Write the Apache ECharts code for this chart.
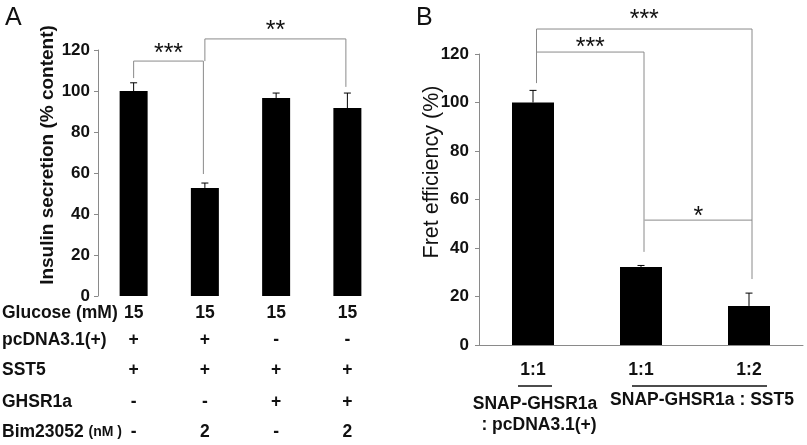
<!DOCTYPE html>
<html>
<head>
<meta charset="utf-8">
<script src="https://cdn.jsdelivr.net/npm/echarts@6/dist/echarts.min.js"></script>
<style>html,body{margin:0;padding:0;background:#fff}#c{width:807px;height:445px}</style>
</head>
<body>
<div id="c"></div>
<script>
// ---------- Panel A data ----------
const catsA = ['g1', 'g2', 'g3', 'g4'];
const insulin = [100, 52.7, 96.6, 91.7];
const insulinErr = [4, 2.4, 2.4, 7.3];
const rowGlucose = ['15', '15', '15', '15'];
const rowPcDNA = ['+', '+', '-', '-'];
const rowSST5 = ['+', '+', '+', '+'];
const rowGHSR = ['-', '-', '+', '+'];
const rowBim = ['-', '2', '-', '2'];
const yTicksA = [0, 20, 40, 60, 80, 100, 120];
// brackets: [fromIdx, toIdx, topY, leftBottomY, rightBottomY]
const bracketsA = [[0, 1, 114.6, 106.3, 59.5], [1, 3, 125.4, 114.6, 102]];
const bracketLabelsA = ['***', '**'];
const bracketLabelYA = [120.5, 131.7];

// ---------- Panel B data ----------
const catsB = ['1:1', '1:1', '1:2'];
const fret = [100, 32.2, 16.1];
const fretErr = [5, 0.6, 5.3];
const yTicksB = [0, 20, 40, 60, 80, 100, 120];
const bracketsB = [[0, 2, 130.3, 108, 27.2], [0, 1, 120.8, 120.8, 38.4], [1, 2, 51.5, 51.5, 51.5]];
const bracketLabelsB = ['***', '***', '*'];
const bracketLabelYB = [136, 124.5, 54.8];

const FONT = "'Liberation Sans', Arial, Helvetica, sans-serif";
const chart = echarts.init(document.getElementById('c'));

function errRender(params, api) {
  const x = api.value(0), v = api.value(1), e = api.value(2);
  const p0 = api.coord([x, v]);
  const p1 = api.coord([x, v + e]);
  return {
    type: 'group',
    children: [
      { type: 'line', shape: { x1: p0[0], y1: p0[1], x2: p1[0], y2: p1[1] }, style: { stroke: '#000', lineWidth: 1 } },
      { type: 'line', shape: { x1: p1[0] - 3.5, y1: p1[1], x2: p1[0] + 3.5, y2: p1[1] }, style: { stroke: '#000', lineWidth: 1 } }
    ]
  };
}

function bracketRender(labels, labelYs, dxL, dxR) {
  return function (params, api) {
    const i = params.dataIndex;
    const a = api.value(0), b = api.value(1), top = api.value(2), lb = api.value(3), rb = api.value(4);
    const pTL = api.coord([a, top]), pTR = api.coord([b, top]);
    const pLB = api.coord([a, lb]), pRB = api.coord([b, rb]);
    const lx = pTL[0] + dxL, rx = pTR[0] + dxR;
    const pl = api.coord([(a + b) / 2, labelYs[i]]);
    return {
      type: 'group',
      children: [
        { type: 'polyline', shape: { points: [[lx, pLB[1]], [lx, pTL[1]], [rx, pTR[1]], [rx, pRB[1]]] },
          style: { stroke: '#8a8a8a', lineWidth: 1, fill: null } },
        { type: 'text', style: { text: labels[i], x: (lx + rx) / 2, y: pl[1] + 5, align: 'center', verticalAlign: 'middle',
          font: "normal 25px " + FONT, fill: '#111' } }
      ]
    };
  };
}

const rich = {
  r1: { lineHeight: 26, fontSize: 17.5, fontWeight: 'bold', fontFamily: FONT, color: '#111' },
  r2: { lineHeight: 28, fontSize: 17.5, fontWeight: 'bold', fontFamily: FONT, color: '#111' },
  r3: { lineHeight: 32, fontSize: 17.5, fontWeight: 'bold', fontFamily: FONT, color: '#111' },
  r4: { lineHeight: 32, fontSize: 17.5, fontWeight: 'bold', fontFamily: FONT, color: '#111' },
  r5: { lineHeight: 28, fontSize: 17.5, fontWeight: 'bold', fontFamily: FONT, color: '#111' }
};

const rowLabelY = [313, 340, 370, 402, 432];
const rowLabels = ['Glucose (mM)', 'pcDNA3.1(+)', 'SST5', 'GHSR1a'];

const graphics = [
  { type: 'text', left: 5, top: 6, style: { text: 'A', font: 'normal 25px ' + FONT, fill: '#111' } },
  { type: 'text', left: 416, top: 6, style: { text: 'B', font: 'normal 25px ' + FONT, fill: '#111' } },
  { type: 'text', x: 48, y: 155, rotation: Math.PI / 2, style: { text: 'Insulin secretion (% content)', align: 'center', verticalAlign: 'middle', font: 'bold 19px ' + FONT, fill: '#111' } },
  { type: 'text', x: 432, y: 172, rotation: Math.PI / 2, style: { text: 'Fret efficiency (%)', align: 'center', verticalAlign: 'middle', font: 'normal 21.5px ' + FONT, fill: '#111' } }
];
rowLabels.forEach((t, k) => {
  graphics.push({ type: 'text', x: 2, y: rowLabelY[k], style: { text: t, align: 'left', verticalAlign: 'middle', font: 'bold 17.5px ' + FONT, fill: '#111' } });
});
graphics.push({ type: 'text', x: 2, y: rowLabelY[4], style: {
  text: '{a|Bim23052 }{b|(nM )}', align: 'left', verticalAlign: 'middle',
  rich: { a: { font: 'bold 17.5px ' + FONT, fill: '#111' }, b: { font: 'bold 14px ' + FONT, fill: '#111' } } } });
// panel B group labels
graphics.push({ type: 'line', shape: { x1: 518, y1: 386, x2: 552, y2: 386 }, style: { stroke: '#111', lineWidth: 1.5 } });
graphics.push({ type: 'line', shape: { x1: 632, y1: 386, x2: 767, y2: 386 }, style: { stroke: '#111', lineWidth: 1.5 } });
graphics.push({ type: 'text', x: 535, y: 404, style: { text: 'SNAP-GHSR1a', align: 'center', verticalAlign: 'middle', font: 'bold 17.5px ' + FONT, fill: '#111' } });
graphics.push({ type: 'text', x: 539, y: 425, style: { text: ': pcDNA3.1(+)', align: 'center', verticalAlign: 'middle', font: 'bold 17.5px ' + FONT, fill: '#111' } });
graphics.push({ type: 'text', x: 702, y: 400, style: { text: 'SNAP-GHSR1a : SST5', align: 'center', verticalAlign: 'middle', font: 'bold 17.5px ' + FONT, fill: '#111' } });

const axisLabelY = { fontSize: 17, fontWeight: 'bold', fontFamily: FONT, color: '#111' };

chart.setOption({
  animation: false,
  backgroundColor: '#fff',
  grid: [
    { left: 98, top: 50, width: 285, height: 246 },
    { left: 479, top: 54, width: 324, height: 291 }
  ],
  xAxis: [
    { type: 'category', gridIndex: 0, data: catsA, axisLine: { show: false }, axisTick: { show: false },
      axisLabel: { margin: 4, interval: 0, rich: rich,
        formatter: (v, i) => `{r1|${rowGlucose[i]}}\n{r2|${rowPcDNA[i]}}\n{r3|${rowSST5[i]}}\n{r4|${rowGHSR[i]}}\n{r5|${rowBim[i]}}` } },
    { type: 'category', gridIndex: 1, data: catsB, axisLine: { show: true, lineStyle: { color: '#8a8a8a', width: 1 } },
      axisTick: { show: false }, axisLabel: { margin: 16, interval: 0, fontSize: 17.5, fontWeight: 'bold', fontFamily: FONT, color: '#111' } }
  ],
  yAxis: [
    { type: 'value', gridIndex: 0, min: yTicksA[0], max: yTicksA[yTicksA.length - 1], interval: 20,
      axisLine: { show: true, lineStyle: { color: '#8a8a8a' } }, axisTick: { show: true, length: 4, lineStyle: { color: '#8a8a8a' } },
      splitLine: { show: false }, axisLabel: Object.assign({ margin: 8 }, axisLabelY) },
    { type: 'value', gridIndex: 1, min: yTicksB[0], max: yTicksB[yTicksB.length - 1], interval: 20,
      axisLine: { show: true, lineStyle: { color: '#8a8a8a' } }, axisTick: { show: true, length: 4, lineStyle: { color: '#8a8a8a' } },
      splitLine: { show: false }, axisLabel: Object.assign({ margin: 10 }, axisLabelY) }
  ],
  series: [
    { type: 'bar', xAxisIndex: 0, yAxisIndex: 0, data: insulin, barWidth: 28, itemStyle: { color: '#000' } },
    { type: 'custom', xAxisIndex: 0, yAxisIndex: 0, renderItem: errRender, clip: false,
      data: insulin.map((v, i) => [i, v, insulinErr[i]]) },
    { type: 'custom', xAxisIndex: 0, yAxisIndex: 0, clip: false,
      renderItem: bracketRender(bracketLabelsA, bracketLabelYA, 0, -1.5), data: bracketsA },
    { type: 'bar', xAxisIndex: 1, yAxisIndex: 1, data: fret, barWidth: 42, itemStyle: { color: '#000' } },
    { type: 'custom', xAxisIndex: 1, yAxisIndex: 1, renderItem: errRender, clip: false,
      data: fret.map((v, i) => [i, v, fretErr[i]]) },
    { type: 'custom', xAxisIndex: 1, yAxisIndex: 1, clip: false,
      renderItem: bracketRender(bracketLabelsB, bracketLabelYB, 3.5, 3), data: bracketsB }
  ],
  graphic: graphics
});
</script>
</body>
</html>
